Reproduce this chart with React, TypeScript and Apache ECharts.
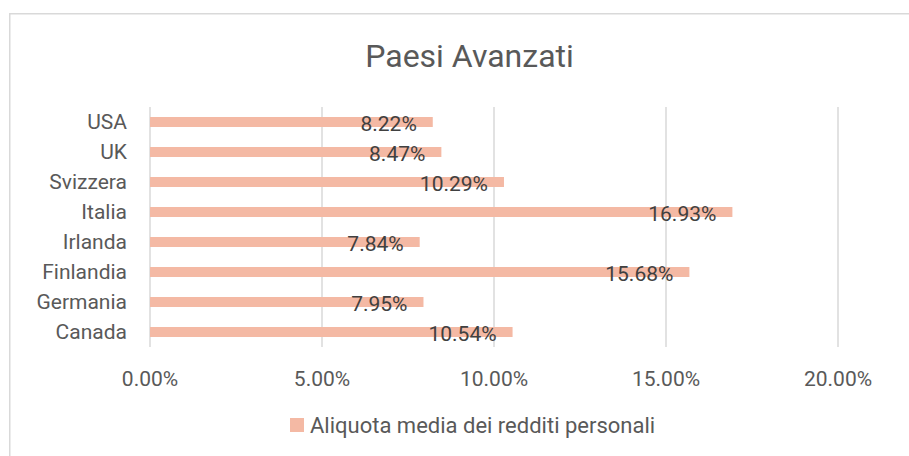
import React, { useEffect, useRef } from "react";
import * as echarts from "echarts";

const titleText = "Paesi Avanzati";
const seriesName = "Aliquota media dei redditi personali";
const categories = ["Canada", "Germania", "Finlandia", "Irlanda", "Italia", "Svizzera", "UK", "USA"];
const values = [10.54, 7.95, 15.68, 7.84, 16.93, 10.29, 8.47, 8.22];
const axisMin = 0;
const axisMax = 20;
const axisInterval = 5;

const FONT = "Roboto";

export default function App() {
  const ref = useRef<HTMLDivElement>(null);
  useEffect(() => {
    const chart = echarts.init(ref.current!, undefined, { renderer: "svg" });
    chart.setOption({
      animation: false,
      backgroundColor: "#ffffff",
      textStyle: { fontFamily: FONT },
      title: {
        text: titleText,
        left: 464.5,
        textAlign: "center",
        top: 35,
        textStyle: { fontFamily: FONT, fontSize: 32, fontWeight: "normal", color: "#595959" },
      },
      graphic: [
        {
          type: "rect",
          shape: { x: 9.75, y: 13.75, width: 1200, height: 1200 },
          style: { fill: "none", stroke: "#d9d9d9", lineWidth: 1.5 },
          silent: true,
          z: -1,
        },
      ],
      legend: {
        left: 285,
        top: 409,
        itemWidth: 14,
        itemHeight: 14,
        itemGap: 10,
        icon: "rect",
        textStyle: { fontFamily: FONT, fontSize: 22, color: "#595959", padding: [0, 0, 0, 1] },
        data: [seriesName],
      },
      grid: { left: 150, right: 71, top: 107, bottom: 109, containLabel: false },
      xAxis: {
        type: "value",
        min: axisMin,
        max: axisMax,
        interval: axisInterval,
        axisLine: { show: false },
        axisTick: { show: false },
        splitLine: { show: true, lineStyle: { color: "#d9d9d9", width: 1.5 } },
        axisLabel: {
          fontFamily: FONT,
          fontSize: 21,
          color: "#595959",
          margin: 21,
          formatter: (v: number) => v.toFixed(2) + "%",
        },
      },
      yAxis: {
        type: "category",
        data: categories,
        axisLine: { show: false },
        axisTick: { show: false },
        axisLabel: { fontFamily: FONT, fontSize: 21, color: "#595959", margin: 23 },
      },
      series: [
        {
          name: seriesName,
          type: "bar",
          data: values,
          barWidth: 10,
          itemStyle: { color: "#F4B9A4" },
          label: {
            show: true,
            position: "insideRight",
            distance: 16,
            offset: [0, 2],
            fontFamily: FONT,
            fontSize: 21,
            color: "#404040",
            formatter: (p: any) => Number(p.value).toFixed(2) + "%",
          },
        },
      ],
    });
    return () => chart.dispose();
  }, []);
  return (
    <div
      ref={ref}
      style={{ position: "absolute", left: 0, top: 0, width: 909, height: 456 }}
    />
  );
}
